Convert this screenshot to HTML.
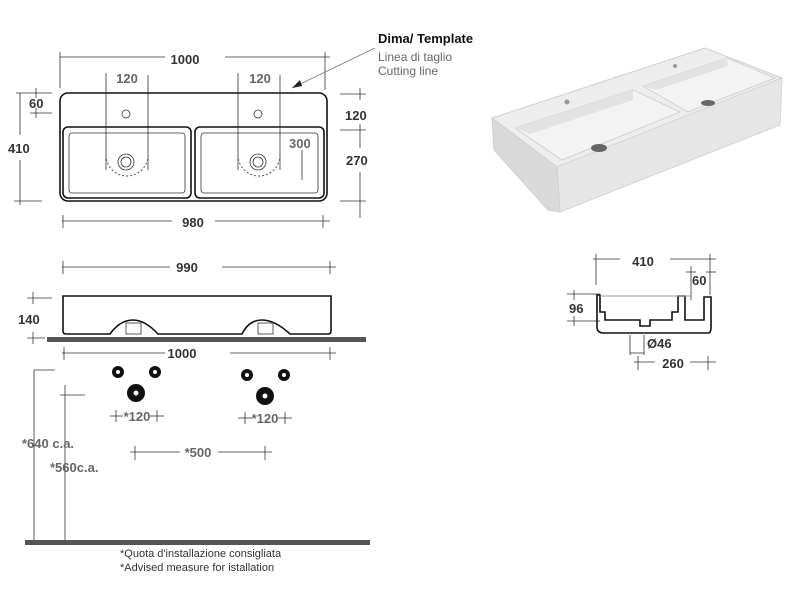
<!DOCTYPE html>
<html><head><meta charset="utf-8"><style>
html,body{margin:0;padding:0;background:#fff;width:800px;height:600px;overflow:hidden}
text{font-family:"Liberation Sans",Arial,sans-serif}
.b{font-weight:bold;font-size:13px;fill:#333}
.g{font-weight:bold;font-size:13px;fill:#666}
.d{stroke:#333;stroke-width:0.8;fill:none}
.o{stroke:#111;stroke-width:1.6;fill:none}
</style></head><body>
<svg width="800" height="600" viewBox="0 0 800 600" xmlns="http://www.w3.org/2000/svg">
<!-- TOP VIEW -->
<g class="d">
<line x1="60" y1="57" x2="165" y2="57"/><line x1="225" y1="57" x2="330" y2="57"/>
<line x1="60" y1="52" x2="60" y2="88"/><line x1="325" y1="52" x2="325" y2="90"/>
<line x1="106" y1="73" x2="106" y2="170"/><line x1="148" y1="75" x2="148" y2="170"/>
<line x1="238" y1="73" x2="238" y2="170"/><line x1="280" y1="75" x2="280" y2="170"/>
<line x1="16" y1="93" x2="52" y2="93"/><line x1="20" y1="93" x2="20" y2="135"/><line x1="20" y1="160" x2="20" y2="205"/><line x1="14" y1="201" x2="42" y2="201"/>
<line x1="36" y1="88" x2="36" y2="98"/><line x1="30" y1="113" x2="52" y2="113"/><line x1="36" y1="108" x2="36" y2="118"/>
<line x1="340" y1="94" x2="366" y2="94"/><line x1="360" y1="88" x2="360" y2="100"/>
<line x1="340" y1="130" x2="366" y2="130"/><line x1="360" y1="124" x2="360" y2="148"/><line x1="360" y1="172" x2="360" y2="218"/>
<line x1="340" y1="201" x2="366" y2="201"/>
<line x1="302" y1="150" x2="302" y2="180"/>
<line x1="62" y1="221" x2="172" y2="221"/><line x1="215" y1="221" x2="330" y2="221"/>
<line x1="63" y1="215" x2="63" y2="228"/><line x1="323" y1="215" x2="323" y2="228"/>
<line x1="375" y1="48" x2="292" y2="88" stroke="#777"/>
</g>
<polygon points="292,88 300,80 302,86" fill="#222"/>
<rect x="60" y="93" width="267" height="108" rx="8" class="o"/>
<rect x="63" y="127" width="128" height="71" rx="5" class="o"/>
<rect x="69" y="133" width="116" height="60" rx="3" class="d"/>
<rect x="195" y="127" width="129" height="71" rx="5" class="o"/>
<rect x="201" y="133" width="117" height="60" rx="3" class="d"/>
<circle cx="126" cy="114" r="4" class="d"/><circle cx="258" cy="114" r="4" class="d"/>
<circle cx="126" cy="162" r="8" class="d"/><circle cx="126" cy="162" r="5" class="d"/>
<circle cx="258" cy="162" r="8" class="d"/><circle cx="258" cy="162" r="5" class="d"/>
<path d="M106,155 A21,21 0 0 0 148,155 M238,155 A21,21 0 0 0 280,155" stroke="#555" stroke-dasharray="2,2" fill="none"/>
<text x="185" y="64" class="b" text-anchor="middle">1000</text>
<text x="127" y="83" class="g" text-anchor="middle">120</text>
<text x="260" y="83" class="g" text-anchor="middle">120</text>
<text x="29" y="108" class="b">60</text>
<text x="8" y="153" class="b">410</text>
<text x="345" y="120" class="b">120</text>
<text x="346" y="165" class="b">270</text>
<text x="289" y="148" class="g">300</text>
<text x="193" y="227" class="b" text-anchor="middle">980</text>
<text x="378" y="43" font-size="13" font-weight="bold" fill="#111">Dima/ Template</text>
<text x="378" y="61" font-size="12" fill="#666">Linea di taglio</text>
<text x="378" y="75" font-size="12" fill="#666">Cutting line</text>
<!-- FRONT VIEW -->
<g class="d">
<line x1="62" y1="267" x2="170" y2="267"/><line x1="222" y1="267" x2="336" y2="267"/>
<line x1="63" y1="261" x2="63" y2="274"/><line x1="330" y1="261" x2="330" y2="274"/>
<line x1="27" y1="298" x2="52" y2="298"/><line x1="33" y1="292" x2="33" y2="304"/>
<line x1="27" y1="338" x2="45" y2="338"/><line x1="33" y1="332" x2="33" y2="344"/>
<line x1="62" y1="353" x2="165" y2="353"/><line x1="230" y1="353" x2="336" y2="353"/>
<line x1="64" y1="347" x2="64" y2="360"/><line x1="330" y1="347" x2="330" y2="360"/>
<line x1="34" y1="370" x2="55" y2="370"/><line x1="34" y1="370" x2="34" y2="540"/>
<line x1="60" y1="395" x2="85" y2="395"/><line x1="65" y1="385" x2="65" y2="540"/>
<line x1="110" y1="416" x2="123" y2="416"/><line x1="116" y1="410" x2="116" y2="422"/>
<line x1="150" y1="416" x2="164" y2="416"/><line x1="157" y1="410" x2="157" y2="422"/>
<line x1="238" y1="418" x2="252" y2="418"/><line x1="245" y1="412" x2="245" y2="424"/>
<line x1="278" y1="418" x2="292" y2="418"/><line x1="285" y1="412" x2="285" y2="424"/>
<line x1="130" y1="452" x2="180" y2="452"/><line x1="218" y1="452" x2="272" y2="452"/>
<line x1="135" y1="446" x2="135" y2="460"/><line x1="265" y1="446" x2="265" y2="460"/>
</g>
<path d="M63,296 H331 V331 Q331,334 328,334 H290 Q275,320 262,320 Q249,320 242,334 H158 Q145,320 133,320 Q120,320 110,334 H66 Q63,334 63,331 Z" class="o" stroke-width="1.3"/>
<rect x="126" y="323" width="15" height="11" class="d"/><rect x="258" y="323" width="15" height="11" class="d"/>
<rect x="47" y="337" width="319" height="5" fill="#555"/>
<text x="187" y="272" class="b" text-anchor="middle">990</text>
<text x="18" y="324" class="b">140</text>
<text x="182" y="358" class="b" text-anchor="middle">1000</text>
<g fill="#111">
<circle cx="118" cy="372" r="6"/><circle cx="155" cy="372" r="6"/><circle cx="136" cy="393" r="9"/>
<circle cx="247" cy="375" r="6"/><circle cx="284" cy="375" r="6"/><circle cx="265" cy="396" r="9"/>
</g>
<g fill="#fff">
<circle cx="118" cy="372" r="2"/><circle cx="155" cy="372" r="2"/><circle cx="136" cy="393" r="2.5"/>
<circle cx="247" cy="375" r="2"/><circle cx="284" cy="375" r="2"/><circle cx="265" cy="396" r="2.5"/>
</g>
<text x="137" y="421" class="g" text-anchor="middle">*120</text>
<text x="265" y="423" class="g" text-anchor="middle">*120</text>
<text x="198" y="457" class="g" text-anchor="middle">*500</text>
<text x="22" y="448" class="g">*640 c.a.</text>
<text x="50" y="472" class="g">*560c.a.</text>
<rect x="25" y="540" width="345" height="5" fill="#555"/>
<text x="120" y="557" font-size="11" fill="#333">*Quota d'installazione consigliata</text>
<text x="120" y="571" font-size="11" fill="#333">*Advised measure for istallation</text>
<!-- 3D -->
<polygon points="492,118 705,48 782,78 557,167" fill="#ededed" stroke="#d0d0d0"/>
<polygon points="557,167 782,78 780,125 560,212" fill="#e6e6e6" stroke="#d6d6d6"/>
<polygon points="492,118 557,167 560,212 548,210 494,150" fill="#dadada" stroke="#d0d0d0"/>
<polygon points="515,128 633,90 680,112 562,160" fill="#f3f3f3" stroke="#d2d2d2"/>
<polygon points="515,128 633,90 633,100 530,134" fill="#e2e2e2"/>
<polygon points="643,86 727,58 775,78 688,112" fill="#f3f3f3" stroke="#d2d2d2"/>
<polygon points="643,86 727,58 728,66 656,90" fill="#e2e2e2"/>
<ellipse cx="599" cy="148" rx="8" ry="4" fill="#666"/><ellipse cx="708" cy="103" rx="7" ry="3" fill="#666"/>
<circle cx="567" cy="102" r="2.5" fill="#999"/><circle cx="675" cy="66" r="2" fill="#999"/>
<!-- SIDE VIEW -->
<g class="d">
<line x1="593" y1="259" x2="620" y2="259"/><line x1="596" y1="254" x2="596" y2="285"/>
<line x1="670" y1="259" x2="716" y2="259"/><line x1="710" y1="254" x2="710" y2="295"/>
<line x1="686" y1="272" x2="696" y2="272"/><line x1="691" y1="266" x2="691" y2="300"/>
<line x1="706" y1="272" x2="716" y2="272"/>
<line x1="567" y1="294" x2="600" y2="294"/><line x1="574" y1="290" x2="574" y2="300"/>
<line x1="567" y1="321" x2="600" y2="321"/><line x1="574" y1="316" x2="574" y2="326"/>
<line x1="630" y1="335" x2="630" y2="355"/><line x1="644" y1="335" x2="644" y2="355"/>
<line x1="630" y1="353" x2="644" y2="353"/>
<line x1="634" y1="362" x2="655" y2="362"/><line x1="638" y1="356" x2="638" y2="370"/>
<line x1="690" y1="362" x2="716" y2="362"/><line x1="708" y1="356" x2="708" y2="370"/>
</g>
<path d="M597,295 V327 Q597,333 604,333 H708 Q711,333 711,328 V297 H704 V320 H685 V296 H678 V312 H672 V320 H650 V326 H640 V320 H605 V312 H600 V295 Z" class="o" stroke-width="1.3"/>
<line x1="600" y1="296" x2="690" y2="296" stroke="#999"/>
<text x="643" y="266" class="b" text-anchor="middle">410</text>
<text x="692" y="285" class="b">60</text>
<text x="569" y="313" class="b">96</text>
<text x="647" y="348" class="b">Ø46</text>
<text x="673" y="368" class="b" text-anchor="middle">260</text>
</svg>
</body></html>
